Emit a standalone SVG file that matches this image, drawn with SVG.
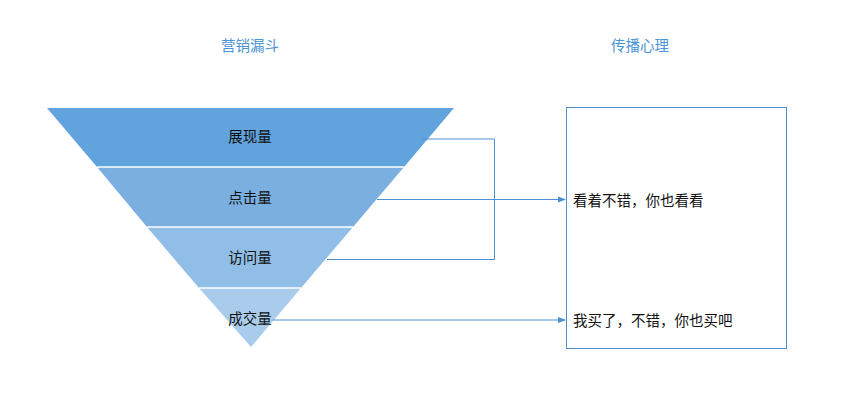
<svg xmlns="http://www.w3.org/2000/svg" width="860" height="406" viewBox="0 0 860 406">
<defs>
<marker id="arr" markerWidth="8" markerHeight="8" refX="7" refY="4" orient="auto" markerUnits="userSpaceOnUse">
<path d="M0,1 L8,4 L0,7 Z" fill="#4a90d6"/>
</marker>
<style>
.t{font-family:"Noto Sans CJK SC","Noto Sans",sans-serif;font-size:14.5px;fill:#111}
.h{font-family:"Noto Sans CJK SC","Noto Sans",sans-serif;font-size:14.5px;fill:#4a94d6}
.c{fill:none;stroke:#4a90d6;stroke-width:1}
.sep{stroke:#ffffff;stroke-width:1.5}
</style>
</defs>
<rect width="860" height="406" fill="#ffffff"/>
<text class="h" x="250" y="51" text-anchor="middle">营销漏斗</text>
<text class="h" x="640" y="51" text-anchor="middle">传播心理</text>
<g id="funnel">
<g id="band1"><polygon points="47,108 454,108 404,167 97,167" fill="#60a3dd"/><text class="t" x="250" y="142" text-anchor="middle">展现量</text></g>
<g id="band2"><polygon points="97,167 404,167 353,227 147,227" fill="#7aafe0"/><text class="t" x="250" y="203" text-anchor="middle">点击量</text></g>
<g id="band3"><polygon points="147,227 353,227 301,288 199,288" fill="#90bee6"/><text class="t" x="250" y="263" text-anchor="middle">访问量</text></g>
<g id="band4"><polygon points="199,288 301,288 251,347" fill="#a9cced"/></g>
<line class="sep" x1="97" y1="167" x2="404" y2="167"/>
<line class="sep" x1="147" y1="227" x2="353" y2="227"/>
<line class="sep" x1="199" y1="288" x2="301" y2="288"/>
</g>
<g id="connectors">
<polyline class="c" points="422,139 494.5,139 494.5,259.5 327,259.5"/>
<line class="c" x1="377" y1="199.5" x2="565" y2="199.5" marker-end="url(#arr)" stroke-width="1.2"/>
<line class="c" x1="273" y1="320" x2="565" y2="320" marker-end="url(#arr)"/>
</g>
<g id="label4"><text class="t" x="250" y="324" text-anchor="middle">成交量</text></g>
<g id="psych">
<rect x="566.5" y="107.5" width="220" height="241" fill="none" stroke="#4a90d6" stroke-width="1"/>
<text class="t" x="573" y="206">看着不错，你也看看</text>
<text class="t" x="573" y="326">我买了，不错，你也买吧</text>
</g>
</svg>
